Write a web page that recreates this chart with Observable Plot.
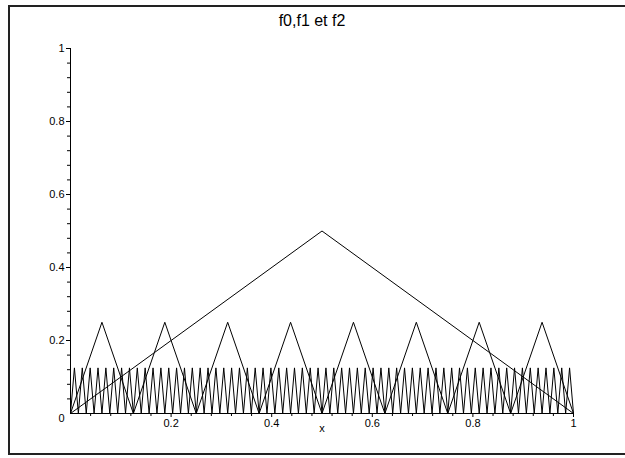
<!DOCTYPE html>
<html>
<head>
<meta charset="utf-8">
<script src="https://cdn.jsdelivr.net/npm/d3@7"></script>
<script src="https://cdn.jsdelivr.net/npm/@observablehq/plot@0.6"></script>
<style>
  html, body { margin: 0; padding: 0; background: white; overflow: hidden; }
  #wrap { position: relative; width: 625px; height: 458px; overflow: hidden; }
  #border { position: absolute; left: 8px; top: 5px; width: 700px; height: 446px;
            border: 2px solid #222; pointer-events: none; z-index: 2; }
  #chart { position: absolute; left: 0; top: 0; z-index: 1; }
</style>
</head>
<body>
<div id="wrap"><div id="chart"></div><div id="border"></div></div>
<script>
const titleText = "f0,f1 et f2";
const xLabel = "x";
const originLabel = "0";

// f0: one tent
const f0x = [0, 0.5, 1];
const f0y = [0, 0.5, 0];

// f1: eight tents
const f1x = [0, 0.0625, 0.125, 0.1875, 0.25, 0.3125, 0.375, 0.4375, 0.5,
             0.5625, 0.625, 0.6875, 0.75, 0.8125, 0.875, 0.9375, 1];
const f1y = [0, 0.25, 0, 0.25, 0, 0.25, 0, 0.25, 0, 0.25, 0, 0.25, 0, 0.25, 0, 0.25, 0];

// f2: sixty-four tents
const f2x = [
  0, 0.0078, 0.0156, 0.0234, 0.0313, 0.0391, 0.0469, 0.0547, 0.0625, 0.0703, 0.0781, 0.0859, 0.0938, 0.1016, 0.1094, 0.1172,
  0.125, 0.1328, 0.1406, 0.1484, 0.1563, 0.1641, 0.1719, 0.1797, 0.1875, 0.1953, 0.2031, 0.2109, 0.2188, 0.2266, 0.2344, 0.2422,
  0.25, 0.2578, 0.2656, 0.2734, 0.2813, 0.2891, 0.2969, 0.3047, 0.3125, 0.3203, 0.3281, 0.3359, 0.3438, 0.3516, 0.3594, 0.3672,
  0.375, 0.3828, 0.3906, 0.3984, 0.4063, 0.4141, 0.4219, 0.4297, 0.4375, 0.4453, 0.4531, 0.4609, 0.4688, 0.4766, 0.4844, 0.4922,
  0.5, 0.5078, 0.5156, 0.5234, 0.5313, 0.5391, 0.5469, 0.5547, 0.5625, 0.5703, 0.5781, 0.5859, 0.5938, 0.6016, 0.6094, 0.6172,
  0.625, 0.6328, 0.6406, 0.6484, 0.6563, 0.6641, 0.6719, 0.6797, 0.6875, 0.6953, 0.7031, 0.7109, 0.7188, 0.7266, 0.7344, 0.7422,
  0.75, 0.7578, 0.7656, 0.7734, 0.7813, 0.7891, 0.7969, 0.8047, 0.8125, 0.8203, 0.8281, 0.8359, 0.8438, 0.8516, 0.8594, 0.8672,
  0.875, 0.8828, 0.8906, 0.8984, 0.9063, 0.9141, 0.9219, 0.9297, 0.9375, 0.9453, 0.9531, 0.9609, 0.9688, 0.9766, 0.9844, 0.9922,
  1
];
const f2y = [
  0, 0.125, 0, 0.125, 0, 0.125, 0, 0.125, 0, 0.125, 0, 0.125, 0, 0.125, 0, 0.125,
  0, 0.125, 0, 0.125, 0, 0.125, 0, 0.125, 0, 0.125, 0, 0.125, 0, 0.125, 0, 0.125,
  0, 0.125, 0, 0.125, 0, 0.125, 0, 0.125, 0, 0.125, 0, 0.125, 0, 0.125, 0, 0.125,
  0, 0.125, 0, 0.125, 0, 0.125, 0, 0.125, 0, 0.125, 0, 0.125, 0, 0.125, 0, 0.125,
  0, 0.125, 0, 0.125, 0, 0.125, 0, 0.125, 0, 0.125, 0, 0.125, 0, 0.125, 0, 0.125,
  0, 0.125, 0, 0.125, 0, 0.125, 0, 0.125, 0, 0.125, 0, 0.125, 0, 0.125, 0, 0.125,
  0, 0.125, 0, 0.125, 0, 0.125, 0, 0.125, 0, 0.125, 0, 0.125, 0, 0.125, 0, 0.125,
  0, 0.125, 0, 0.125, 0, 0.125, 0, 0.125, 0, 0.125, 0, 0.125, 0, 0.125, 0, 0.125,
  0
];

// ticks
const xTicks = [0.2, 0.4, 0.6, 0.8, 1];
const xTickLabels = ["0.2", "0.4", "0.6", "0.8", "1"];
const xMinorTicks = [0.04, 0.08, 0.12, 0.16, 0.24, 0.28, 0.32, 0.36, 0.44, 0.48, 0.52, 0.56,
                     0.64, 0.68, 0.72, 0.76, 0.84, 0.88, 0.92, 0.96];
const yTicks = [0.2, 0.4, 0.6, 0.8, 1];
const yTickLabels = ["0.2", "0.4", "0.6", "0.8", "1"];
const yMinorTicks = [0.04, 0.08, 0.12, 0.16, 0.24, 0.28, 0.32, 0.36, 0.44, 0.48, 0.52, 0.56,
                     0.64, 0.68, 0.72, 0.76, 0.84, 0.88, 0.92, 0.96];

const toPts = (xs, ys) => xs.map((x, i) => ({x, y: ys[i]}));
const f0 = toPts(f0x, f0y);
const f1 = toPts(f1x, f1y);
const f2 = toPts(f2x, f2y);

const chart = Plot.plot({
  width: 625,
  height: 458,
  marginLeft: 70,
  marginRight: 52,
  marginTop: 48,
  marginBottom: 45,
  style: {fontFamily: "'Liberation Sans', Arial, sans-serif", fontSize: "11px", color: "black", background: "white"},
  x: {domain: [0, 1], axis: null},
  y: {domain: [0, 1], axis: null},
  marks: [
    Plot.line(f2, {x: "x", y: "y", stroke: "black", strokeWidth: 1}),
    Plot.line(f1, {x: "x", y: "y", stroke: "black", strokeWidth: 1}),
    Plot.line(f0, {x: "x", y: "y", stroke: "black", strokeWidth: 1}),
    Plot.axisY(yMinorTicks, {anchor: "left", tickSize: 3, fill: "none", label: null}),
    Plot.axisY(yTicks, {anchor: "left", tickSize: 4, tickPadding: 2, label: null,
      tickFormat: d => yTickLabels[yTicks.indexOf(d)]}),
    Plot.axisX(xMinorTicks, {anchor: "bottom", tickSize: 3, fill: "none", label: null}),
    Plot.axisX(xTicks, {anchor: "bottom", tickSize: 4, tickPadding: 2, label: null,
      tickFormat: d => xTickLabels[xTicks.indexOf(d)]}),
    Plot.ruleX([0], {y1: 0, y2: 1, stroke: "black"}),
    Plot.ruleY([0], {x1: 0, x2: 1, stroke: "black"}),
    Plot.text([originLabel], {x: 0, y: 0, text: d => d, dx: -9, dy: 5, fill: "black"}),
    Plot.text([xLabel], {frameAnchor: "bottom", text: d => d, dy: 18, fill: "black"}),
    Plot.text([titleText], {frameAnchor: "top", text: d => d, dx: -10, dy: -34, fontSize: 16, fill: "black"})
  ]
});
document.getElementById("chart").appendChild(chart);
</script>
</body>
</html>
